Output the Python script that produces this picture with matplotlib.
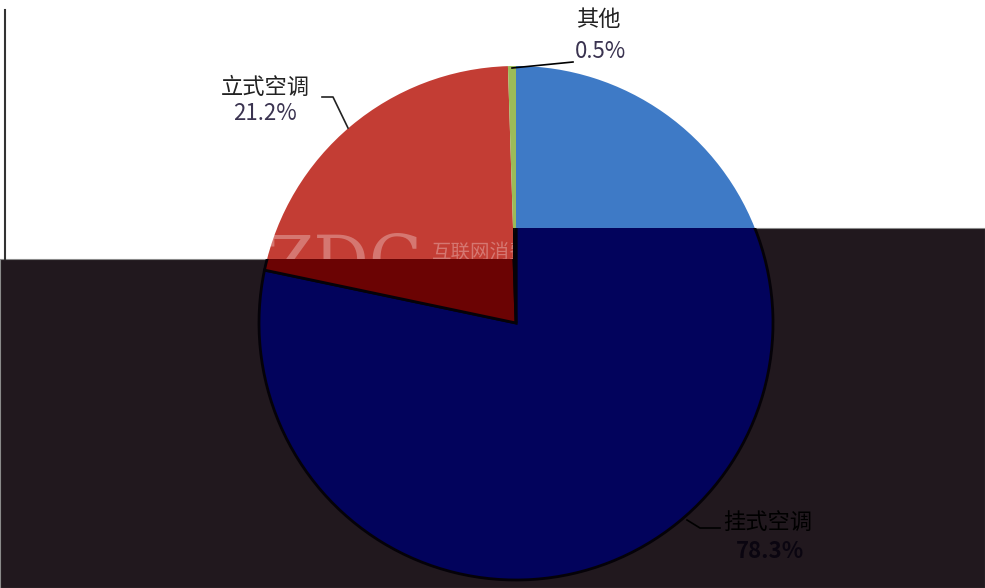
import matplotlib.pyplot as plt
from matplotlib.path import Path
from matplotlib.patches import PathPatch

plt.rcParams['font.family'] = ['Noto Sans CJK SC', 'DejaVu Sans']

labels = ['挂式空调', '立式空调', '其他']
shares = [78.3, 21.2, 0.5]
colors = ['#3E7AC6', '#C33D34', '#9BBB59']
dark_colors = ['#02035C', '#6B0303', '#3A4A10']

W, H = 985, 588
cx, cy, r = 516, 323, 257


def py(y):
    # pixel row -> data y
    return H - y


fig = plt.figure(figsize=(9.85, 5.88), dpi=100)
ax = fig.add_axes([0, 0, 1, 1])

# normal pie
ax.pie(shares, colors=colors, startangle=90, counterclock=False,
       center=(cx, py(cy)), radius=r, frame=True,
       wedgeprops=dict(linewidth=0))

# dark overlay region
verts = [(0, py(259)), (513, py(259)), (513, py(228)), (W, py(228)),
         (W, 0), (0, 0), (0, py(259))]
region = Path(verts, closed=True)
ax.add_patch(PathPatch(region, facecolor='#21181E', edgecolor='#8a8a8a',
                       linewidth=0.8, zorder=3))

wedges, _ = ax.pie(shares, colors=dark_colors, startangle=90, counterclock=False,
                   center=(cx, py(cy)), radius=r, frame=True,
                   wedgeprops=dict(linewidth=2, edgecolor='#050208'))
clip = PathPatch(region, transform=ax.transData, facecolor='none', edgecolor='none')
for w in wedges:
    w.set_zorder(4)
    w.set_clip_on(True)
    w.set_clip_path(clip)

ax.set_xlim(0, W)
ax.set_ylim(0, H)
ax.set_aspect('auto')
ax.axis('off')

# left border line
ax.plot([5, 5], [py(10), py(259)], color='#333333', lw=1.5, zorder=5)

# watermark
ax.text(266, py(266), 'ZDC', fontsize=50, color='white', alpha=0.3,
        fontfamily='DejaVu Serif', va='center', ha='left', zorder=2)
ax.text(432, py(252), '互联网消费调研中心', fontsize=14, color='white', alpha=0.3,
        va='center', ha='left', zorder=2)

# labels and leader lines
ax.plot([512, 573], [py(68), py(62)], color='black', lw=1.2, zorder=6)
ax.text(598, py(20), labels[2], fontsize=16, color='#222222', ha='center', va='center', zorder=6)
ax.text(600, py(51), '0.5%', fontsize=16, color='#3a3350', ha='center', va='center', zorder=6)

ax.plot([322, 333, 348], [py(97), py(97), py(128)], color='#222222', lw=1.2, zorder=6)
ax.text(265, py(87), labels[1], fontsize=16, color='#222222', ha='center', va='center', zorder=6)
ax.text(265, py(114), '21.2%', fontsize=16, color='#3a3350', ha='center', va='center', zorder=6)

ax.plot([687, 700, 720], [py(520), py(528), py(528)], color='black', lw=1.2, zorder=6)
ax.text(768, py(522), labels[0], fontsize=16, color='black', ha='center', va='center', zorder=6)
ax.text(770, py(552), '78.3%', fontsize=16, color='#0a0510', fontweight='bold',
        ha='center', va='center', zorder=6)

fig.savefig('out.png', dpi=100)
